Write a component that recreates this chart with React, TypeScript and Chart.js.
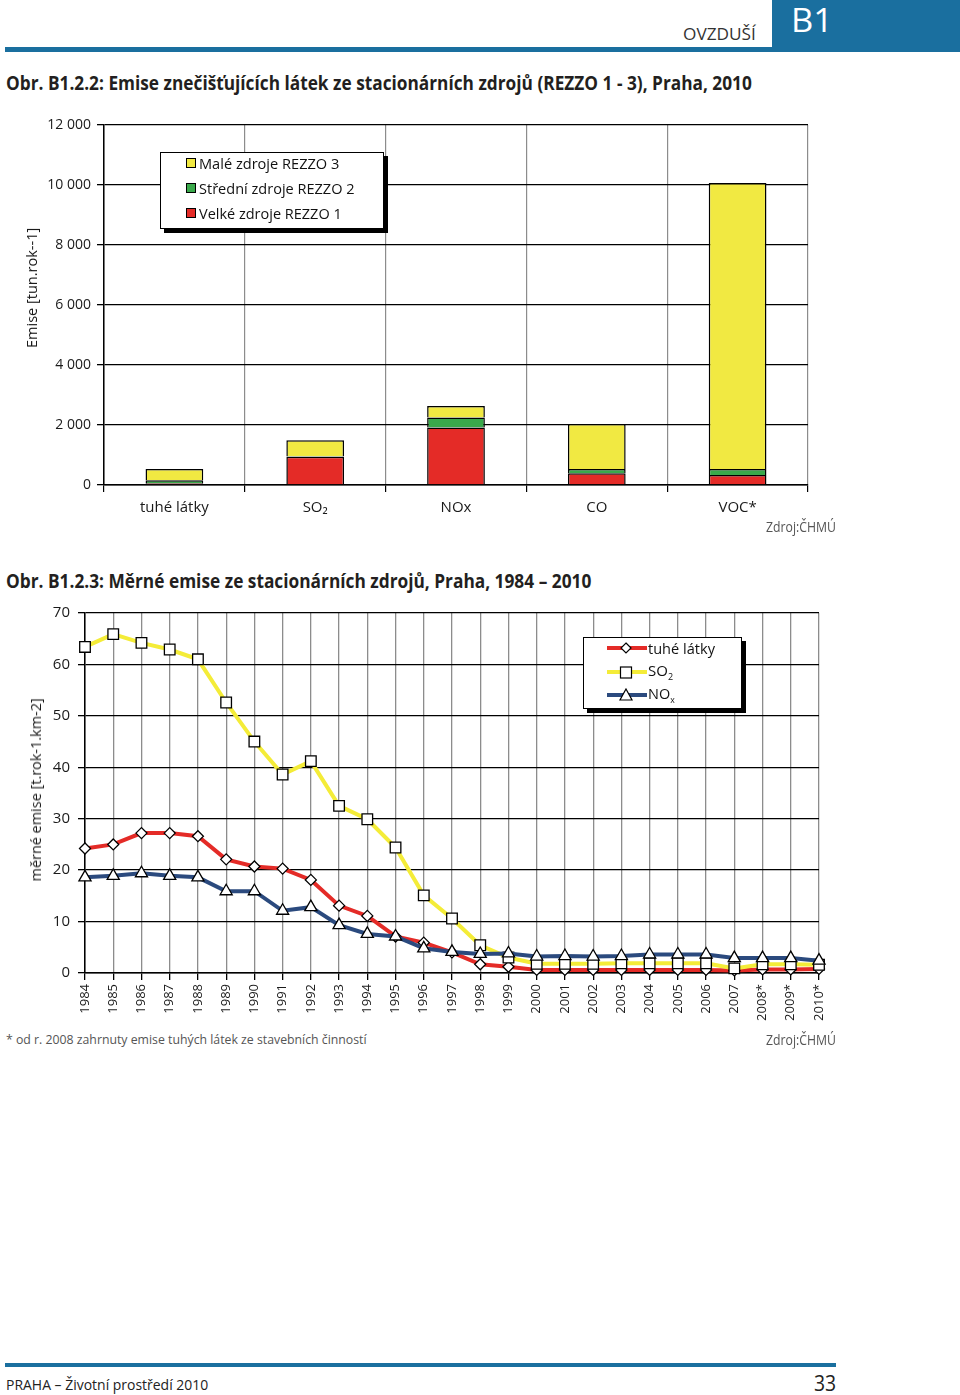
import React, { useEffect, useLayoutEffect, useRef } from "react";
import { Chart, registerables } from "chart.js";

Chart.register(...registerables);

// ---------- DATA ----------
const barCategories = ["tuhé látky", "SO₂", "NOx", "CO", "VOC*"];
const rezzo1Velke = [60, 940, 1920, 390, 330];
const rezzo2Stredni = [100, 20, 330, 140, 200];
const rezzo3Male = [370, 530, 380, 1500, 9540];

const years = [
  "1984", "1985", "1986", "1987", "1988", "1989", "1990", "1991", "1992",
  "1993", "1994", "1995", "1996", "1997", "1998", "1999", "2000", "2001",
  "2002", "2003", "2004", "2005", "2006", "2007", "2008*", "2009*", "2010*",
];
const tuheLatky = [
  24.2, 25.0, 27.2, 27.2, 26.6, 22.1, 20.7, 20.3, 18.1, 13.1, 11.1, 7.1, 5.9,
  4.0, 1.7, 1.2, 0.6, 0.6, 0.6, 0.6, 0.6, 0.6, 0.6, 0.5, 0.7, 0.7, 0.8,
];
const so2 = [
  63.4, 65.9, 64.2, 62.9, 61.0, 52.6, 45.0, 38.6, 41.2, 32.5, 29.9, 24.4, 15.1,
  10.6, 5.4, 3.0, 1.8, 1.8, 1.8, 1.9, 1.9, 1.9, 1.9, 0.9, 1.7, 1.7, 1.6,
];
const nox = [
  18.6, 18.9, 19.4, 18.9, 18.6, 15.9, 15.9, 12.1, 12.8, 9.3, 7.6, 7.1, 4.8,
  4.1, 3.7, 3.8, 3.2, 3.3, 3.2, 3.3, 3.6, 3.6, 3.6, 2.9, 2.9, 2.9, 2.4,
];

// ---------- STYLE ----------
const FONT = "'Open Sans', 'Noto Sans', sans-serif";
const RED = "#e42b27";
const GREEN = "#3aa94b";
const YELLOW = "#f1e942";
const BLUE = "#2b4a7e";
const LINE_YELLOW = "#f4ec38";
const BRAND = "#1a6f9f";

function Txt(props: {
  x: number;
  y: number;
  w: number;
  rot?: boolean;
  style?: React.CSSProperties;
  children: React.ReactNode;
}) {
  const ref = useRef<HTMLSpanElement>(null);
  useLayoutEffect(() => {
    const el = ref.current;
    if (!el) return;
    el.style.transform = "none";
    const nat = el.offsetWidth;
    if (nat > 0) el.style.transform = `scaleX(${props.w / nat})`;
  });
  const outer: React.CSSProperties = props.rot
    ? {
        position: "absolute",
        left: props.x,
        top: props.y,
        width: props.w,
        transform: "translate(-50%,-50%) rotate(-90deg)",
        lineHeight: 1.2,
      }
    : {
        position: "absolute",
        left: props.x,
        top: props.y,
        width: props.w,
        transform: "translateY(-50%)",
        lineHeight: 1.2,
      };
  return (
    <div style={{ ...outer, fontFamily: FONT, ...props.style }}>
      <span
        ref={ref}
        style={{ display: "inline-block", whiteSpace: "nowrap", transformOrigin: "0 50%" }}
      >
        {props.children}
      </span>
    </div>
  );
}

function BarChart() {
  const ref = useRef<HTMLCanvasElement>(null);
  useEffect(() => {
    if (!ref.current) return;
    const common = {
      borderColor: "#000",
      borderWidth: 1.5,
      barPercentage: 0.41,
      categoryPercentage: 1,
    };
    const chart = new Chart(ref.current, {
      type: "bar",
      data: {
        labels: barCategories,
        datasets: [
          { label: "Velké zdroje REZZO 1", data: rezzo1Velke, backgroundColor: RED, ...common },
          { label: "Střední zdroje REZZO 2", data: rezzo2Stredni, backgroundColor: GREEN, ...common },
          { label: "Malé zdroje REZZO 3", data: rezzo3Male, backgroundColor: YELLOW, ...common },
        ],
      },
      options: {
        animation: false,
        responsive: false,
        devicePixelRatio: 1,
        layout: { padding: { top: 15, right: 32, left: 0, bottom: 0 } },
        plugins: { legend: { display: false }, tooltip: { enabled: false } },
        scales: {
          x: {
            stacked: true,
            grid: { color: "#8c8c8c", lineWidth: 1.2, tickColor: "#000", tickLength: 7, offset: true },
            border: { color: "#000", width: 1.5 },
            ticks: { color: "#1a1a1a", font: { family: FONT, size: 15 }, padding: 7, maxRotation: 0 },
            afterFit: (s: any) => {
              s.height = 45;
            },
          },
          y: {
            stacked: true,
            min: 0,
            max: 12000,
            ticks: {
              stepSize: 2000,
              color: "#1a1a1a",
              font: { family: FONT, size: 14 },
              padding: 6,
              callback: (v: any) => String(v).replace(/\B(?=(\d{3})+(?!\d))/g, " "),
            },
            grid: { color: "#000", lineWidth: 1.3, tickLength: 7 },
            border: { color: "#000", width: 1.5 },
            afterFit: (s: any) => {
              s.width = 104;
            },
          },
        },
      },
    });
    return () => chart.destroy();
  }, []);
  return (
    <canvas
      ref={ref}
      width={840}
      height={420}
      style={{ position: "absolute", left: 0, top: 110, width: 840, height: 420 }}
    />
  );
}

function LineChart() {
  const ref = useRef<HTMLCanvasElement>(null);
  useEffect(() => {
    if (!ref.current) return;
    const pt = {
      pointBackgroundColor: "#fff",
      pointBorderColor: "#000",
      pointBorderWidth: 1.3,
      borderWidth: 4,
      tension: 0,
      clip: false as any,
      fill: false,
    };
    const chart = new Chart(ref.current, {
      type: "line",
      data: {
        labels: years,
        datasets: [
          { label: "tuhé látky", data: tuheLatky, borderColor: RED, pointStyle: "rectRot", pointRadius: 5.5, order: 2, ...pt },
          { label: "SO2", data: so2, borderColor: LINE_YELLOW, pointStyle: "rect", pointRadius: 7.5, order: 1, ...pt },
          { label: "NOx", data: nox, borderColor: BLUE, pointStyle: "triangle", pointRadius: 7, order: 0, ...pt },
        ],
      },
      options: {
        animation: false,
        responsive: false,
        devicePixelRatio: 1,
        layout: { padding: { top: 0, right: 21, left: 0, bottom: 0 } },
        plugins: { legend: { display: false }, tooltip: { enabled: false } },
        scales: {
          x: {
            offset: false,
            grid: { color: "#8c8c8c", lineWidth: 1.3, tickColor: "#000", tickLength: 7 },
            border: { color: "#000", width: 1.5 },
            ticks: {
              color: "#1a1a1a",
              font: { family: FONT, size: 13 },
              padding: 4,
              minRotation: 90,
              maxRotation: 90,
              autoSkip: false,
            },
            afterFit: (s: any) => {
              s.height = 57;
            },
          },
          y: {
            min: 0,
            max: 70,
            ticks: { stepSize: 10, color: "#1a1a1a", font: { family: FONT, size: 15 }, padding: 8 },
            grid: { color: "#000", lineWidth: 1.3, tickLength: 7 },
            border: { color: "#000", width: 1.5 },
            afterFit: (s: any) => {
              s.width = 85;
            },
          },
        },
      },
    });
    return () => chart.destroy();
  }, []);
  return (
    <canvas
      ref={ref}
      width={840}
      height={434}
      style={{ position: "absolute", left: 0, top: 596, width: 840, height: 434 }}
    />
  );
}

function Square({ color }: { color: string }) {
  return (
    <span
      style={{
        position: "absolute",
        width: 8,
        height: 8,
        background: color,
        border: "1px solid #000",
      }}
    />
  );
}

function BarLegend() {
  const rows: [string, string][] = [
    ["Malé zdroje REZZO 3", YELLOW],
    ["Střední zdroje REZZO 2", GREEN],
    ["Velké zdroje REZZO 1", RED],
  ];
  const widths = [140, 156, 143];
  return (
    <>
      <div
        style={{
          position: "absolute",
          left: 160,
          top: 152,
          width: 222,
          height: 75,
          background: "#fff",
          border: "1px solid #000",
          boxShadow: "4px 4px 0 #000",
        }}
      />
      {rows.map(([label, color], i) => (
        <React.Fragment key={label}>
          <div style={{ position: "absolute", left: 186, top: 158 + i * 25 }}>
            <Square color={color} />
          </div>
          <Txt x={199} y={163 + i * 25} w={widths[i]} style={{ fontSize: 15, color: "#111" }}>
            {label}
          </Txt>
        </React.Fragment>
      ))}
    </>
  );
}

function Marker({ kind }: { kind: string }) {
  if (kind === "diamond")
    return <polygon points="19,2 24,7 19,12 14,7" fill="#fff" stroke="#000" strokeWidth={1.2} />;
  if (kind === "square")
    return <rect x={13.5} y={2} width={11} height={11} fill="#fff" stroke="#000" strokeWidth={1.2} />;
  return <polygon points="19,1 25,12 13,12" fill="#fff" stroke="#000" strokeWidth={1.2} />;
}

function LineLegend() {
  const rows: { label: React.ReactNode; color: string; kind: string; w: number }[] = [
    { label: "tuhé látky", color: RED, kind: "diamond", w: 67 },
    { label: <>SO<sub style={{ fontSize: 9 }}>2</sub></>, color: LINE_YELLOW, kind: "square", w: 25 },
    { label: <>NO<sub style={{ fontSize: 9 }}>x</sub></>, color: BLUE, kind: "triangle", w: 27 },
  ];
  return (
    <>
      <div
        style={{
          position: "absolute",
          left: 583,
          top: 637,
          width: 157,
          height: 70,
          background: "#fff",
          border: "1px solid #000",
          boxShadow: "4px 4px 0 #000",
        }}
      />
      {rows.map((r, i) => (
        <React.Fragment key={i}>
          <svg
            width={40}
            height={14}
            style={{ position: "absolute", left: 607, top: 641 + i * 23.5 }}
          >
            <line x1={0} y1={7} x2={40} y2={7} stroke={r.color} strokeWidth={4} />
            <Marker kind={r.kind} />
          </svg>
          <Txt x={648} y={648 + i * 23.5} w={r.w} style={{ fontSize: 15, color: "#111" }}>
            {r.label}
          </Txt>
        </React.Fragment>
      ))}
    </>
  );
}

export default function App() {
  useLayoutEffect(() => {
    document.body.style.margin = "0";
  }, []);
  return (
    <div
      style={{
        position: "fixed",
        left: 0,
        top: 0,
        width: 960,
        height: 1395,
        overflow: "hidden",
        background: "#fff",
        fontFamily: FONT,
      }}
    >
      {/* header */}
      <div style={{ position: "absolute", left: 5, top: 47, width: 770, height: 5, background: BRAND }} />
      <div style={{ position: "absolute", left: 772, top: 0, width: 188, height: 52, background: BRAND }} />
      <Txt x={683} y={34} w={73} style={{ fontSize: 17, color: "#333" }}>
        OVZDUŠÍ
      </Txt>
      <Txt x={791} y={20} w={42} style={{ fontSize: 32, color: "#fff" }}>
        B1
      </Txt>

      {/* titles */}
      <Txt x={6} y={83} w={746} style={{ fontSize: 19, fontWeight: 700, color: "#231f20" }}>
        Obr. B1.2.2: Emise znečišťujících látek ze stacionárních zdrojů (REZZO 1 - 3), Praha, 2010
      </Txt>
      <Txt x={6} y={581} w={585} style={{ fontSize: 19, fontWeight: 700, color: "#231f20" }}>
        Obr. B1.2.3: Měrné emise ze stacionárních zdrojů, Praha, 1984 – 2010
      </Txt>

      <BarChart />
      <BarLegend />
      <Txt x={31} y={288} w={120} rot style={{ fontSize: 15, color: "#1a1a1a" }}>
        Emise [tun.rok--1]
      </Txt>
      <Txt x={766} y={527} w={70} style={{ fontSize: 14, color: "#555" }}>
        Zdroj:ČHMÚ
      </Txt>

      <LineChart />
      <LineLegend />
      <Txt x={35} y={790} w={183} rot style={{ fontSize: 15, color: "#1a1a1a" }}>
        měrné emise [t.rok-1.km-2]
      </Txt>
      <Txt x={6} y={1040} w={361} style={{ fontSize: 13, color: "#555" }}>
        * od r. 2008 zahrnuty emise tuhých látek ze stavebních činností
      </Txt>
      <Txt x={766} y={1040} w={70} style={{ fontSize: 14, color: "#555" }}>
        Zdroj:ČHMÚ
      </Txt>

      {/* footer */}
      <div style={{ position: "absolute", left: 5, top: 1363, width: 831, height: 4, background: BRAND }} />
      <Txt x={6} y={1384} w={202} style={{ fontSize: 15, color: "#222" }}>
        PRAHA – Životní prostředí 2010
      </Txt>
      <Txt x={814} y={1382} w={22} style={{ fontSize: 22, color: "#222" }}>
        33
      </Txt>
    </div>
  );
}
